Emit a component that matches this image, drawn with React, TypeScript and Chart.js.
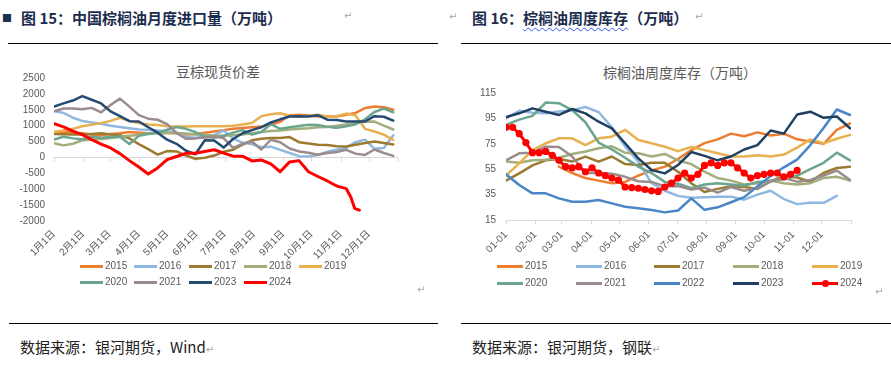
import React, { useEffect, useRef } from "react";
import { Chart, registerables } from "chart.js";
Chart.register(...registerables);

// ---------- shared axis data ----------
const MONTH_DAYS = [0, 31, 59, 90, 120, 151, 181, 212, 243, 273, 304, 334];
const LEFT_TICK_LABELS = ["1月1日", "2月1日", "3月1日", "4月1日", "5月1日", "6月1日", "7月1日", "8月1日", "9月1日", "10月1日", "11月1日", "12月1日"];
const RIGHT_TICK_LABELS = ["01-01", "02-01", "03-01", "04-01", "05-01", "06-01", "07-01", "08-01", "09-01", "10-01", "11-01", "12-01"];
const LEFT_Y_TICKS = [-2000, -1500, -1000, -500, 0, 500, 1000, 1500, 2000, 2500];
const RIGHT_Y_TICKS = [15, 35, 55, 75, 95, 115];

// ---------- left chart: 豆棕现货价差 ----------
const LEFT_DAYS = [0, 10, 20, 30, 40, 50, 60, 70, 80, 90, 100, 110, 120, 130, 140, 150, 160, 170, 180, 190, 200, 210, 220, 230, 240, 250, 260, 270, 280, 290, 300, 310, 320, 330, 340, 350, 360];
const LEFT_2024_DAYS = [0, 10, 20, 30, 40, 50, 60, 70, 80, 90, 100, 110, 120, 130, 140, 150, 160, 170, 180, 190, 200, 210, 220, 230, 240, 250, 260, 270, 280, 290, 300, 310, 315, 319, 324];

const L2015 = [800, 820, 780, 760, 720, 700, 740, 760, 800, 780, 760, 780, 770, 760, 720, 740, 780, 820, 860, 900, 924, 950, 975, 1028, 1120, 1330, 1340, 1320, 1290, 1290, 1290, 1343, 1400, 1554, 1600, 1580, 1500];
const L2016 = [1460, 1400, 1250, 1150, 1100, 1060, 1000, 960, 920, 880, 870, 850, 820, 780, 640, 620, 650, 700, 850, 600, 460, 420, 320, 340, 240, 140, 40, 30, 80, 180, 240, 300, 480, 560, 270, 300, 700];
const L2017 = [740, 730, 720, 720, 740, 760, 720, 700, 600, 420, 260, 90, 200, 190, 60, -40, -10, 60, 180, 242, 400, 540, 590, 610, 610, 640, 480, 440, 400, 390, 350, 346, 400, 453, 500, 453, 410];
const L2018 = [450, 380, 430, 540, 560, 580, 610, 650, 680, 710, 760, 770, 770, 770, 750, 720, 720, 680, 680, 700, 720, 760, 800, 830, 850, 880, 900, 920, 950, 960, 1000, 1040, 1080, 1120, 1130, 1000, 880];
const L2019 = [800, 850, 900, 980, 1030, 1080, 1150, 1250, 1150, 1080, 1040, 1020, 980, 970, 970, 980, 980, 980, 980, 1000, 1040, 1082, 1300, 1360, 1390, 1311, 1300, 1311, 1343, 1290, 1300, 1380, 1320, 900, 818, 720, 550];
const L2020 = [560, 650, 600, 570, 650, 620, 640, 650, 420, 680, 740, 780, 870, 960, 900, 800, 650, 620, 680, 780, 860, 720, 800, 1050, 900, 950, 990, 1030, 1020, 970, 930, 980, 1040, 1200, 1430, 1540, 1420];
const L2021 = [1450, 1540, 1540, 1520, 1560, 1420, 1650, 1850, 1600, 1330, 1220, 1186, 1050, 770, 590, 600, 630, 660, 610, 300, 430, 500, 250, 557, 480, 280, 190, 150, 85, 138, 170, 240, 120, 80, 250, 140, 50];
const L2023 = [1600, 1700, 1790, 1930, 1815, 1700, 1450, 1300, 1140, 1132, 950, 780, 560, 430, 210, 100, 540, 530, 310, 580, 760, 860, 950, 1100, 1200, 1290, 1300, 1290, 1330, 1190, 1180, 1132, 1132, 1132, 1300, 1280, 1160];
const L2024 = [1060, 960, 830, 720, 560, 420, 300, 120, -100, -300, -520, -330, -70, 31, 130, 130, 189, 242, 138, 40, 40, -110, -80, -200, -450, -140, -100, -450, -600, -740, -900, -980, -1250, -1600, -1660];

// ---------- right chart: 棕榈油周度库存 ----------
const RIGHT_DAYS = [0, 14, 28, 42, 56, 70, 84, 98, 112, 126, 140, 154, 168, 182, 196, 210, 224, 238, 252, 266, 280, 294, 308, 322, 336, 350, 364];
const RIGHT_2024_DAYS = [0, 7, 14, 21, 28, 35, 42, 49, 56, 63, 70, 77, 84, 91, 98, 105, 112, 119, 126, 133, 140, 147, 154, 161, 168, 175, 182, 189, 196, 203, 210, 217, 224, 231, 238, 245, 252, 259, 266, 273, 280, 287, 294, 301, 308];

const R2015 = [null, null, null, null, 57, 52, 48, 46, 44, 45, 50, 54, 57, 63, 70, 75.5, 78.5, 83, 81, 84, 81.5, 83, 78.5, 76.7, 75, 86, 91];
const R2016 = [95, 101, 99.5, 99, 100.5, 101.5, 104, 100, 88, 73, 61, 44, 38, 34, 32.5, 33, 33.4, 33.4, 31, 35, 38, 31.5, 27.5, 28.5, 28.5, 34, null];
const R2017 = [46, 51.7, 58, 62, 63, 61, 64.9, 61, 65, 59, 58.3, 60, 60, 53, 44, 37, 39.5, 41.5, 41, 39.5, 45.5, 49.5, 48.5, 45.2, 52, 56, 57];
const R2018 = [61, 60, 62, 62.5, 64, 67, 69, 71.5, 73, 68, 67.5, 65, 67, 62, 59, 53, 48, 46, 43, 44, 46, 44, 43, 44, 48, 49, 46];
const R2019 = [50, 59.6, 70, 75.4, 79.3, 79.3, 74, 79.3, 80.6, 86, 78, 75.4, 72.7, 69.2, 72.5, 70, 67.5, 65, 65, 66, 65, 66.5, 72, 78.5, 75.4, 79, 82];
const R2020 = [90, 94, 97, 107.5, 107, 101.6, 92, 76, 70.5, 64, 57, 52, 45, 43.5, 40, 43, 44, 43, 42, 45, 46, 47, 50, 55, 60, 68, 62];
const R2021 = [62, 67.5, 68, 72.7, 72.5, 65, 52, 52, 51.5, 49, 45.5, 45, 41.5, 41.7, 39, 40.5, 36.5, 41, 38, 40, 45.3, 48, 45.2, 46.5, 50, 54, 46.5];
const R2022 = [51, 42.6, 36, 36, 32, 29.4, 29.4, 30.7, 28.1, 25.5, 24.2, 22.9, 21, 22.5, 32, 23, 25, 29, 33, 41.5, 49.6, 56.5, 62.5, 74, 87.5, 102, 97.7];
const R2023 = [96, 99, 102.9, 100.3, 97.7, 102.4, 99, 92.4, 87.2, 75.4, 63.5, 54.4, 51.7, 58.3, 68.5, 65.5, 62, 65, 70.5, 74, 85.5, 83, 98, 100.3, 95.5, 96.5, 87.2];
const R2024 = [88, 88, 83, 76, 68, 68, 69, 66, 62, 57, 56, 57, 53, 56, 52, 50, 48, 46.5, 41, 40.5, 40, 39, 38, 37.5, 41, 44, 48, 52, 48, 51, 58, 60, 58, 60, 60, 56, 52, 48, 50, 51, 52, 52, 49, 51, 54];

// ---------- series styles ----------
const C = {
  y2015: "#ED7D31",
  y2016: "#8FB8E0",
  y2017: "#9C7A30",
  y2018: "#A2AE7C",
  y2019: "#E8B04E",
  y2020: "#6CA58E",
  y2021: "#9A8C8C",
  y2022: "#4A86C5",
  y2023: "#264B73",
  y2024: "#FF0000",
};

const LEFT_SERIES = [
  { label: "2015", days: LEFT_DAYS, values: L2015, color: C.y2015 },
  { label: "2016", days: LEFT_DAYS, values: L2016, color: C.y2016 },
  { label: "2017", days: LEFT_DAYS, values: L2017, color: C.y2017 },
  { label: "2018", days: LEFT_DAYS, values: L2018, color: C.y2018 },
  { label: "2019", days: LEFT_DAYS, values: L2019, color: C.y2019 },
  { label: "2020", days: LEFT_DAYS, values: L2020, color: C.y2020 },
  { label: "2021", days: LEFT_DAYS, values: L2021, color: C.y2021 },
  { label: "2023", days: LEFT_DAYS, values: L2023, color: C.y2023 },
  { label: "2024", days: LEFT_2024_DAYS, values: L2024, color: C.y2024 },
];

const RIGHT_SERIES = [
  { label: "2015", days: RIGHT_DAYS, values: R2015, color: C.y2015 },
  { label: "2016", days: RIGHT_DAYS, values: R2016, color: C.y2016 },
  { label: "2017", days: RIGHT_DAYS, values: R2017, color: C.y2017 },
  { label: "2018", days: RIGHT_DAYS, values: R2018, color: C.y2018 },
  { label: "2019", days: RIGHT_DAYS, values: R2019, color: C.y2019 },
  { label: "2020", days: RIGHT_DAYS, values: R2020, color: C.y2020 },
  { label: "2021", days: RIGHT_DAYS, values: R2021, color: C.y2021 },
  { label: "2022", days: RIGHT_DAYS, values: R2022, color: C.y2022 },
  { label: "2023", days: RIGHT_DAYS, values: R2023, color: "#1F3F63" },
  { label: "2024", days: RIGHT_2024_DAYS, values: R2024, color: C.y2024, markers: true },
];

const TICK_FONT = { family: "'Liberation Sans', 'Noto Sans CJK SC', sans-serif", size: 10 };
const TEXT_GRAY = "#595959";
const AXIS_GRAY = "#D9D9D9";

function monthTicks(scale: any) {
  scale.ticks = [...MONTH_DAYS, 365].map((v) => ({ value: v }));
}

const zeroTicksPlugin = {
  id: "zeroTicks",
  beforeDatasetsDraw(chart: any) {
    const { ctx, scales } = chart;
    const x = scales.x;
    const y = scales.y;
    const y0 = Math.round(y.getPixelForValue(0)) + 0.5;
    ctx.save();
    ctx.strokeStyle = AXIS_GRAY;
    ctx.lineWidth = 1;
    ctx.beginPath();
    [...MONTH_DAYS, 365].forEach((d) => {
      const px = Math.round(x.getPixelForValue(d)) + 0.5;
      ctx.moveTo(px, y0);
      ctx.lineTo(px, y0 + 4);
    });
    ctx.stroke();
    ctx.restore();
  },
};

function buildDatasets(series: any[], width: number) {
  const n = series.length;
  return series.map((s, i) => ({
    label: s.label,
    data: s.days.map((d: number, j: number) => ({ x: d, y: s.values[j] })),
    borderColor: s.color,
    backgroundColor: s.color,
    borderWidth: s.label === "2024" ? 3 : width,
    pointRadius: s.markers ? 3.6 : 0,
    pointBackgroundColor: s.color,
    pointBorderColor: s.color,
    pointBorderWidth: 0,
    tension: 0,
    fill: false,
    spanGaps: false,
    order: n - i,
  }));
}

function LeftChart() {
  const ref = useRef<HTMLCanvasElement | null>(null);
  useEffect(() => {
    if (!ref.current) return;
    const chart = new Chart(ref.current, {
      type: "line",
      data: { datasets: buildDatasets(LEFT_SERIES, 2.5) as any },
      options: {
        animation: false,
        responsive: false,
        maintainAspectRatio: false,
        layout: { padding: { top: 18, right: 42, left: 0, bottom: 0 } },
        plugins: { legend: { display: false }, tooltip: { enabled: false }, title: { display: false } },
        elements: { line: { borderJoinStyle: "round", borderCapStyle: "round" } },
        scales: {
          x: {
            type: "linear",
            min: 0,
            max: 365,
            afterBuildTicks: monthTicks,
            afterFit: (s: any) => { s.height = 44; },
            ticks: {
              autoSkip: false,
              minRotation: 45,
              maxRotation: 45,
              padding: 7,
              color: TEXT_GRAY,
              font: TICK_FONT,
              callback: (v: any) => {
                const i = MONTH_DAYS.indexOf(Number(v));
                return i >= 0 ? LEFT_TICK_LABELS[i] : "";
              },
            },
            grid: { display: false, drawTicks: false },
            border: { display: false },
          },
          y: {
            type: "linear",
            min: -2000,
            max: 2500,
            afterBuildTicks: (s: any) => { s.ticks = LEFT_Y_TICKS.map((v) => ({ value: v })); },
            afterFit: (s: any) => { s.width = 54; },
            ticks: { padding: 9, color: TEXT_GRAY, font: TICK_FONT, callback: (v: any) => String(v) },
            grid: {
              drawTicks: false,
              lineWidth: 1,
              color: (c: any) => (c.tick && c.tick.value === 0 ? AXIS_GRAY : "rgba(0,0,0,0)"),
            },
            border: { display: false },
          },
        },
      } as any,
      plugins: [zeroTicksPlugin],
    });
    return () => chart.destroy();
  }, []);
  return <canvas ref={ref} width={440} height={205} style={{ position: "absolute", left: 0, top: 60, width: 440, height: 205 }} />;
}

function RightChart() {
  const ref = useRef<HTMLCanvasElement | null>(null);
  useEffect(() => {
    if (!ref.current) return;
    const chart = new Chart(ref.current, {
      type: "line",
      data: { datasets: buildDatasets(RIGHT_SERIES, 2.5) as any },
      options: {
        animation: false,
        responsive: false,
        maintainAspectRatio: false,
        layout: { padding: { top: 33, right: 40, left: 0, bottom: 0 } },
        plugins: { legend: { display: false }, tooltip: { enabled: false }, title: { display: false } },
        elements: { line: { borderJoinStyle: "round", borderCapStyle: "round" } },
        scales: {
          x: {
            type: "linear",
            min: 0,
            max: 365,
            afterBuildTicks: monthTicks,
            afterFit: (s: any) => { s.height = 45; },
            ticks: {
              autoSkip: false,
              minRotation: 45,
              maxRotation: 45,
              padding: 5,
              color: TEXT_GRAY,
              font: TICK_FONT,
              callback: (v: any) => {
                const i = MONTH_DAYS.indexOf(Number(v));
                return i >= 0 ? RIGHT_TICK_LABELS[i] : "";
              },
            },
            grid: { display: true, drawOnChartArea: false, drawTicks: true, tickLength: 4, color: AXIS_GRAY },
            border: { display: true, color: AXIS_GRAY },
          },
          y: {
            type: "linear",
            min: 15,
            max: 115,
            afterBuildTicks: (s: any) => { s.ticks = RIGHT_Y_TICKS.map((v) => ({ value: v })); },
            afterFit: (s: any) => { s.width = 61; },
            ticks: { padding: 10, color: TEXT_GRAY, font: TICK_FONT, callback: (v: any) => String(v) },
            grid: { display: false, drawTicks: false },
            border: { display: false },
          },
        },
      } as any,
    });
    return () => chart.destroy();
  }, []);
  return <canvas ref={ref} width={446} height={205} style={{ position: "absolute", left: 445, top: 60, width: 446, height: 205 }} />;
}

function Legend({ series, cols, rows, lineLen }: any) {
  return (
    <>
      {series.map((s: any, i: number) => {
        const x = cols[i % cols.length];
        const y = rows[Math.floor(i / cols.length)];
        return (
          <div key={s.label} style={{ position: "absolute", left: x, top: y - 7, height: 14, display: "flex", alignItems: "center" }}>
            <div style={{ position: "relative", width: lineLen, height: 3, background: s.color }}>
              {s.markers ? (
                <div style={{ position: "absolute", left: lineLen / 2 - 3.5, top: -2, width: 7, height: 7, borderRadius: "50%", background: s.color }} />
              ) : null}
            </div>
            <span style={{ marginLeft: 2, font: "10px 'Liberation Sans', sans-serif", color: TEXT_GRAY, lineHeight: "14px" }}>{s.label}</span>
          </div>
        );
      })}
    </>
  );
}

const CJK = "'Noto Sans CJK SC', sans-serif";
const RET = "↵";

export default function App() {
  const headColor = "#1C2D4E";
  const ret = (x: number, y: number) => (
    <span style={{ position: "absolute", left: x, top: y - 7, font: "10px 'DejaVu Sans', sans-serif", color: "#A6A6A6", lineHeight: "14px" }}>{RET}</span>
  );
  return (
    <div style={{ position: "absolute", left: 0, top: 0, width: 891, height: 370, background: "#fff", overflow: "hidden" }}>
      {/* header left */}
      <span style={{ position: "absolute", left: 2, top: 8, font: `10px ${CJK}`, color: headColor, lineHeight: "20px" }}>■</span>
      <div style={{ position: "absolute", left: 21, top: 7, font: `bold 15px ${CJK}`, color: headColor, lineHeight: "22px", whiteSpace: "nowrap" }}>
        图 15：中国棕榈油月度进口量（万吨）
      </div>
      {ret(344, 16)}
      <div style={{ position: "absolute", left: 8, top: 43, width: 430, height: 1, background: "#000" }} />

      {/* header right */}
      {ret(449, 17)}
      <div style={{ position: "absolute", left: 472, top: 7, font: `bold 15px ${CJK}`, color: headColor, lineHeight: "22px", whiteSpace: "nowrap" }}>
        图 16：
        <span style={{ textDecoration: "underline wavy #3355EE", textDecorationThickness: "1px", textUnderlineOffset: "3px" }}>棕榈油周度库存</span>
        （万吨）
      </div>
      {ret(695, 17)}
      <div style={{ position: "absolute", left: 461, top: 43, width: 430, height: 1, background: "#000" }} />

      {/* chart titles */}
      <div style={{ position: "absolute", left: 118, top: 61, width: 200, textAlign: "center", font: `14px ${CJK}`, color: TEXT_GRAY, lineHeight: "20px" }}>豆棕现货价差</div>
      <div style={{ position: "absolute", left: 580, top: 62, width: 200, textAlign: "center", font: `14px ${CJK}`, color: TEXT_GRAY, lineHeight: "20px" }}>棕榈油周度库存（万吨）</div>

      <LeftChart />
      <RightChart />

      <Legend series={LEFT_SERIES} cols={[80, 134, 189, 244, 299]} rows={[266, 282]} lineLen={23} />
      <Legend series={RIGHT_SERIES} cols={[497, 576, 654, 733, 812]} rows={[266, 283]} lineLen={26} />
      {ret(417, 290)}
      {ret(875, 292)}

      {/* footers */}
      <div style={{ position: "absolute", left: 9, top: 323, width: 429, height: 1, background: "#000" }} />
      <div style={{ position: "absolute", left: 461, top: 323, width: 430, height: 1, background: "#000" }} />
      <div style={{ position: "absolute", left: 20, top: 337, font: `15px ${CJK}`, color: "#222", lineHeight: "20px", whiteSpace: "nowrap" }}>
        数据来源：银河期货，Wind<span style={{ font: "10px 'DejaVu Sans', sans-serif", color: "#A6A6A6" }}>{RET}</span>
      </div>
      <div style={{ position: "absolute", left: 472, top: 337, font: `15px ${CJK}`, color: "#222", lineHeight: "20px", whiteSpace: "nowrap" }}>
        数据来源：银河期货，钢联<span style={{ font: "10px 'DejaVu Sans', sans-serif", color: "#A6A6A6" }}>{RET}</span>
      </div>
    </div>
  );
}
